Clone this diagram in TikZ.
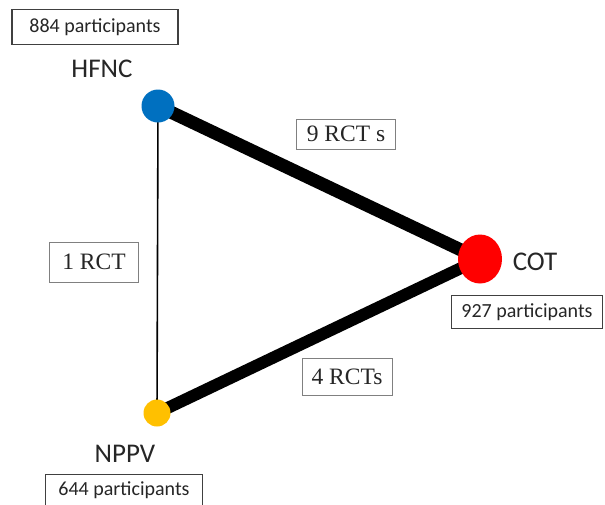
\documentclass[tikz,border=0pt]{standalone}
\usepackage{fontspec}
\setmainfont{Liberation Serif}
\newfontfamily\labelfont{Carlito}
\usetikzlibrary{backgrounds,shapes.geometric}
\definecolor{hfncblue}{RGB}{0,112,192}
\definecolor{nppvyellow}{RGB}{255,192,0}
\definecolor{cotred}{RGB}{255,0,0}
\tikzset{
  arm/.style={circle, inner sep=0pt, minimum size=#1},
  armname/.style={font=\labelfont\fontsize{27}{30}\selectfont, text=black!85, inner sep=0pt},
  countbox/.style={draw=black!75, line width=1.2pt, font=\labelfont\fontsize{20}{22}\selectfont,
    text=black!85, inner sep=0pt, minimum height=#1},
  rctbox/.style={draw=black!50, line width=0.9pt, font=\fontsize{23.5}{26}\selectfont,
    text=black!85, inner sep=0pt},
  link/.style={line width=#1, black, line cap=butt}
}
\begin{document}
\begin{tikzpicture}[x=1pt,y=-1pt]
  \useasboundingbox (0,0) rectangle (605,504);

  % treatment arms
  \node[arm=33pt, fill=hfncblue] (hfnc) at (158,106) {};
  \node[arm=27pt, fill=nppvyellow] (nppv) at (157,413) {};
  \node[ellipse, inner sep=0pt, minimum width=44pt, minimum height=49pt, fill=cotred] (cot) at (480,259) {};

  % comparisons between arms, kept behind the arm markers
  \begin{scope}[on background layer]
    \fill[white] (0,0) rectangle (605,504);
    \draw[link=13pt] (hfnc.center) -- (cot.center);
    \draw[link=12pt] (cot.center) -- (nppv.center);
    \draw[link=1.6pt] (hfnc.center) -- (nppv.center);
  \end{scope}

  % arm names
  \node[armname] (hfncname) at (102,69) {HFNC};
  \node[armname] (cotname) at (535,262) {COT};
  \node[armname] (nppvname) at (125,454) {NPPV};

  % participant counts
  \node[countbox=35pt, minimum width=166pt] (hfncn) at (95,27) {884 participants};
  \node[countbox=33pt, minimum width=151pt] (cotn) at (527,312) {927 participants};
  \node[countbox=31pt, minimum width=157pt] (nppvn) at (124,490) {644 participants};

  % number of trials per comparison
  \node[rctbox, minimum width=99pt, minimum height=30pt] (rct9) at (346,134) {9 RCT s};
  \node[rctbox, minimum width=89pt, minimum height=40pt] (rct1) at (94,262) {1 RCT};
  \node[rctbox, minimum width=90pt, minimum height=37pt] (rct4) at (347,377) {4 RCTs};
\end{tikzpicture}
\end{document}
